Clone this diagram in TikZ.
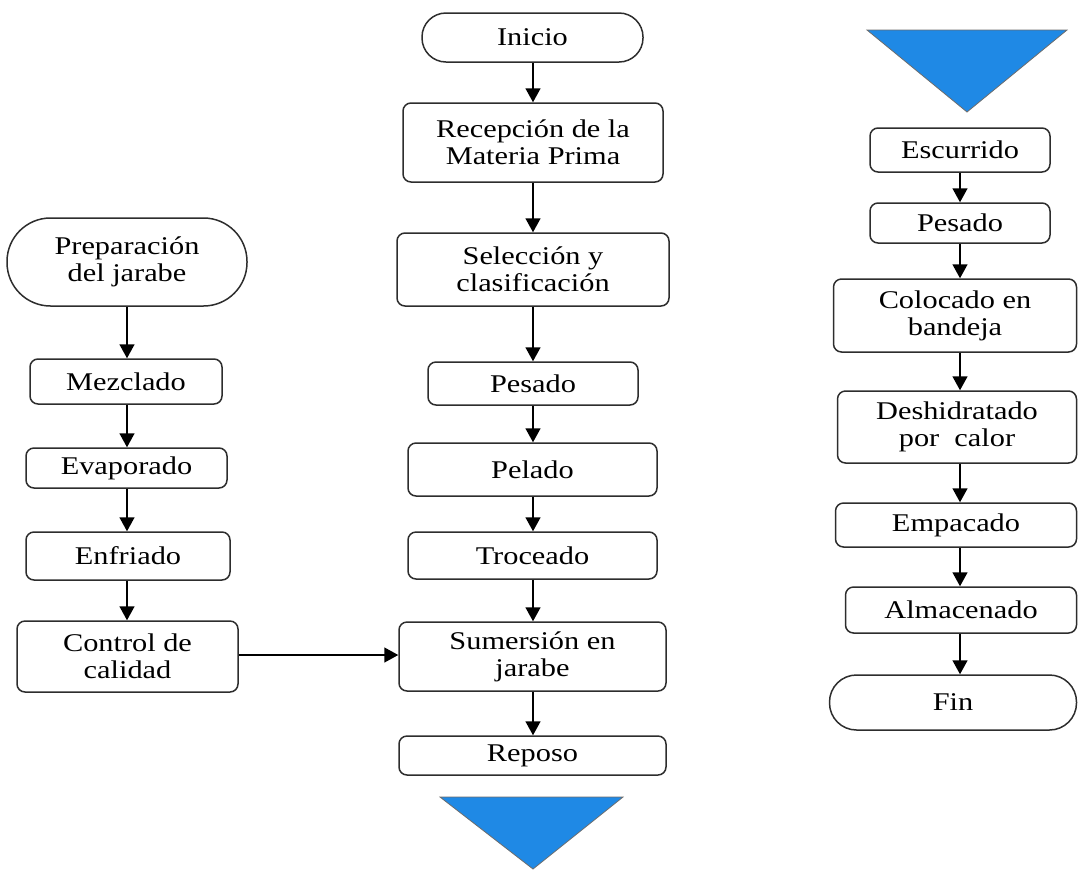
\documentclass[tikz,border=0pt]{standalone}
\usepackage{fontspec}
\setmainfont[FakeStretch=1.19]{Liberation Serif}
\usetikzlibrary{arrows.meta,calc}
\definecolor{edge}{RGB}{45,45,45}
\definecolor{triblue}{RGB}{31,137,229}
\begin{document}
\begin{tikzpicture}[x=1pt,y=-1pt,
  every node/.style={font=\fontsize{25.5pt}{27pt}\selectfont, align=center, inner sep=0pt},
  box/.style={draw=edge, line width=1.5pt, rounded corners=8pt},
  term/.style={draw=edge, line width=1.5pt},
  arr/.style={draw=black, line width=1.5pt, -{Triangle[width=15pt,length=14pt]}},
  tri/.style={fill=triblue, draw=edge!70, line width=0.8pt}]
\useasboundingbox (0,0) rectangle (1078,871);
% column axes
\coordinate (axL) at (127,0);
\coordinate (axM) at (533,0);
\coordinate (axR) at (960,0);
% left column
\node[term, rounded corners=43.5pt, minimum width=240pt, minimum height=88pt] (prep) at (127,262) {Preparación\\del jarabe};
\node[box, minimum width=192pt, minimum height=45pt] (mez) at (126,381.5) {Mezclado};
\node[box, minimum width=201pt, minimum height=40pt] (eva) at (126.5,468) {Evaporado};
\node[box, minimum width=204pt, minimum height=48pt] (enf) at (128,556) {Enfriado};
\node[box, minimum width=221pt, minimum height=71pt] (ctrl) at (127.5,656.5) {Control de\\calidad};
% middle column
\node[term, rounded corners=24pt, minimum width=221pt, minimum height=49pt] (ini) at (532.5,37.5) {Inicio};
\node[box, minimum width=260pt, minimum height=79pt] (rec) at (533,142.5) {Recepción de la\\Materia Prima};
\node[box, minimum width=272pt, minimum height=73pt] (sel) at (533,269.5) {Selección y\\clasificación};
\node[box, minimum width=210pt, minimum height=43pt] (pes1) at (533,383.5) {Pesado};
\node[box, minimum width=249pt, minimum height=53pt] (pel) at (532.5,469.5) {Pelado};
\node[box, minimum width=249pt, minimum height=47pt] (tro) at (532.5,555.5) {Troceado};
\node[box, minimum width=267pt, minimum height=69pt] (sum) at (532.5,656.5) {Sumersión en\\jarabe};
\node[box, minimum width=267pt, minimum height=39pt] (rep) at (532.5,755.5) {Reposo};
\draw[tri] (440,797) -- (623,797) -- (533,869) -- cycle;
% right column
\draw[tri] (867,30) -- (1067,30) -- (967,112) -- cycle;
\node[box, minimum width=180pt, minimum height=44pt] (esc) at (960,150) {Escurrido};
\node[box, minimum width=180pt, minimum height=40pt] (pes2) at (960,223) {Pesado};
\node[box, minimum width=243pt, minimum height=73pt] (col) at (955,315.5) {Colocado en\\bandeja};
\node[box, minimum width=239pt, minimum height=72pt] (des) at (957,427) {Deshidratado\\por\ \ calor};
\node[box, minimum width=241pt, minimum height=44pt] (emp) at (956,525) {Empacado};
\node[box, minimum width=231pt, minimum height=46pt] (alm) at (961,610) {Almacenado};
\node[term, rounded corners=27pt, minimum width=247pt, minimum height=55pt] (fin) at (953,702.5) {Fin};
% arrows left
\draw[arr] (prep.south -| axL) -- (mez.north -| axL);
\draw[arr] (mez.south -| axL) -- (eva.north -| axL);
\draw[arr] (eva.south -| axL) -- (enf.north -| axL);
\draw[arr] (enf.south -| axL) -- (ctrl.north -| axL);
% arrows middle
\draw[arr] (ini.south -| axM) -- (rec.north -| axM);
\draw[arr] (rec.south -| axM) -- (sel.north -| axM);
\draw[arr] (sel.south -| axM) -- (pes1.north -| axM);
\draw[arr] (pes1.south -| axM) -- (pel.north -| axM);
\draw[arr] (pel.south -| axM) -- (tro.north -| axM);
\draw[arr] (tro.south -| axM) -- (sum.north -| axM);
\draw[arr] (sum.south -| axM) -- (rep.north -| axM);
\draw[arr] ([yshift=1.5pt]ctrl.east) -- ([yshift=1.5pt]sum.west);
% arrows right
\draw[arr] (esc.south -| axR) -- (pes2.north -| axR);
\draw[arr] (pes2.south -| axR) -- (col.north -| axR);
\draw[arr] (col.south -| axR) -- (des.north -| axR);
\draw[arr] (des.south -| axR) -- (emp.north -| axR);
\draw[arr] (emp.south -| axR) -- (alm.north -| axR);
\draw[arr] (alm.south -| axR) -- (fin.north -| axR);
\end{tikzpicture}
\end{document}
